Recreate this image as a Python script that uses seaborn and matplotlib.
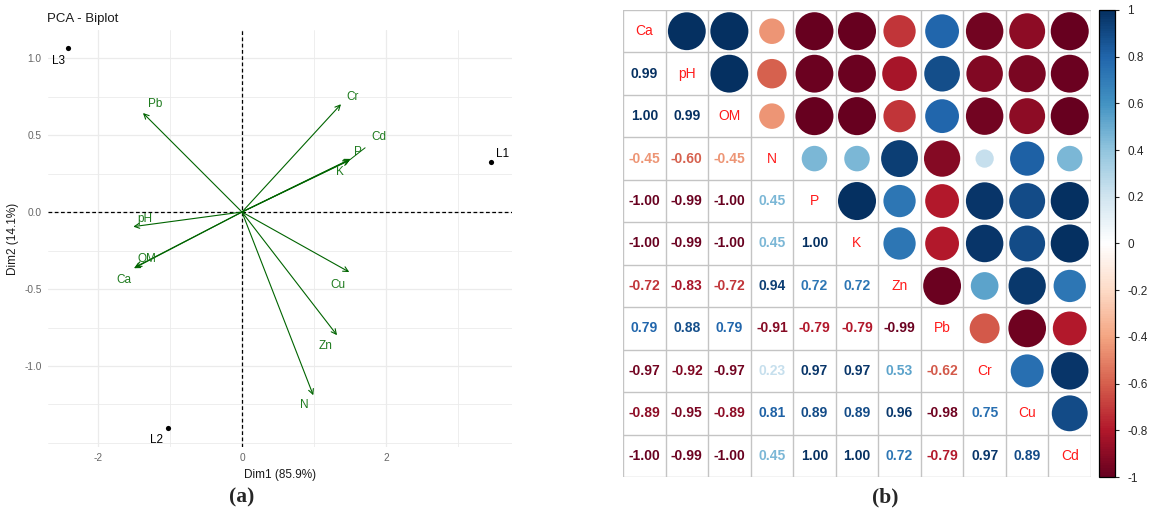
import numpy as np
import pandas as pd
import matplotlib
matplotlib.use("Agg")
import matplotlib.pyplot as plt
from matplotlib.colors import LinearSegmentedColormap, Normalize
from matplotlib.cm import ScalarMappable
from matplotlib.ticker import MultipleLocator
import seaborn as sns

# ---------------- data ----------------
variables = ["Ca", "pH", "OM", "N", "P", "K", "Zn", "Pb", "Cr", "Cu", "Cd"]

# PCA variable loadings (Dim1, Dim2)
var_dim1 = [-1.50, -1.51, -1.48, 0.99, 1.51, 1.49, 1.32, -1.375, 1.375, 1.49, 1.50]
var_dim2 = [-0.365, -0.095, -0.357, -1.19, 0.345, 0.335, -0.80, 0.643, 0.70, -0.39, 0.34]

# PCA individual scores
sites = ["L1", "L2", "L3"]
site_dim1 = [3.46, -1.03, -2.42]
site_dim2 = [0.325, -1.40, 1.065]

# lower-triangle correlation coefficients, row by row
corr_rows = [
    [],
    [0.99],
    [1.00, 0.99],
    [-0.45, -0.60, -0.45],
    [-1.00, -0.99, -1.00, 0.45],
    [-1.00, -0.99, -1.00, 0.45, 1.00],
    [-0.72, -0.83, -0.72, 0.94, 0.72, 0.72],
    [0.79, 0.88, 0.79, -0.91, -0.79, -0.79, -0.99],
    [-0.97, -0.92, -0.97, 0.23, 0.97, 0.97, 0.53, -0.62],
    [-0.89, -0.95, -0.89, 0.81, 0.89, 0.89, 0.96, -0.98, 0.75],
    [-1.00, -0.99, -1.00, 0.45, 1.00, 1.00, 0.72, -0.79, 0.97, 0.89],
]
colorbar_ticks = [-1, -0.8, -0.6, -0.4, -0.2, 0, 0.2, 0.4, 0.6, 0.8, 1]

# ---------------- style ----------------
sns.set_style("white")
plt.rcParams["font.family"] = ["Liberation Sans", "DejaVu Sans"]

n = len(variables)
corr = np.eye(n)
for i, row in enumerate(corr_rows):
    for j, v in enumerate(row):
        corr[i, j] = v
        corr[j, i] = v

rdbu = LinearSegmentedColormap.from_list(
    "corr_rdbu",
    ["#67001F", "#B2182B", "#D6604D", "#F4A582", "#FDDBC7", "#FFFFFF",
     "#D1E5F0", "#92C5DE", "#4393C3", "#2166AC", "#053061"], N=200)
cnorm = Normalize(-1, 1)

W, H = 1149, 516
fig = plt.figure(figsize=(W / 100, H / 100), dpi=100)

# ---------------- (a) PCA biplot ----------------
ax1 = fig.add_axes([48 / W, 1 - 447 / H, (512 - 48) / W, (447 - 30) / H])
ax1.set_xlim(-2.694, 3.75)
ax1.set_ylim(-1.526, 1.182)

ax1.xaxis.set_major_locator(MultipleLocator(2))
ax1.xaxis.set_minor_locator(MultipleLocator(1))
ax1.yaxis.set_major_locator(MultipleLocator(0.5))
ax1.yaxis.set_minor_locator(MultipleLocator(0.25))
ax1.grid(True, which="major", color="#EBEBEB", lw=0.9)
ax1.grid(True, which="minor", color="#EBEBEB", lw=0.6)
ax1.set_axisbelow(True)
for s in ax1.spines.values():
    s.set_visible(False)
ax1.tick_params(axis="both", which="major", length=2.5, width=0.6, color="#333333",
                labelsize=7.3, labelcolor="#666666", pad=2)
ax1.tick_params(axis="both", which="minor", length=0)
ax1.set_xticks([-2, 0, 2])
ax1.set_xticklabels(["-2", "0", "2"])
ax1.set_yticks([-1.0, -0.5, 0.0, 0.5, 1.0])
ax1.set_yticklabels(["-1.0", "-0.5", "0.0", "0.5", "1.0"])

ax1.axhline(0, color="black", ls=(0, (3, 2)), lw=0.9)
ax1.axvline(0, color="black", ls=(0, (3, 2)), lw=0.9)

pca_vars = pd.DataFrame({"var": variables, "Dim1": var_dim1, "Dim2": var_dim2})
pca_sites = pd.DataFrame({"site": sites, "Dim1": site_dim1, "Dim2": site_dim2})

# label offsets in points (repelled text placement)
var_label_offset = {
    "Pb": (8.6, 6.5), "Cr": (8, 5), "Cd": (21, 16.5), "P": (5, 5), "K": (-7, -8),
    "Cu": (-8, -9.4), "Zn": (-8, -8), "N": (-6.5, -7.2), "pH": (8.6, 5.8),
    "OM": (8.6, 5.8), "Ca": (-7.2, -8.6),
}
site_label_offset = {"L1": (8, 5.8), "L2": (-8, -8.6), "L3": (-6.5, -9.4)}

arrow_col = "#006400"
for _, r in pca_vars.iterrows():
    ax1.annotate("", xy=(r.Dim1, r.Dim2), xytext=(0, 0),
                 arrowprops=dict(arrowstyle="->", color=arrow_col, lw=0.8,
                                 shrinkA=0, shrinkB=0, mutation_scale=9))
for _, r in pca_vars.iterrows():
    dx, dy = var_label_offset[r["var"]]
    connect = dict(arrowstyle="-", color=arrow_col, lw=0.7, shrinkA=3, shrinkB=0) \
        if r["var"] == "Cd" else None
    ax1.annotate(r["var"], xy=(r.Dim1, r.Dim2), xytext=(dx, dy),
                 textcoords="offset points", ha="center", va="center",
                 fontsize=8.5, color="#1E7B1E", arrowprops=connect)

sns.scatterplot(data=pca_sites, x="Dim1", y="Dim2", color="black", s=14,
                linewidth=0, ax=ax1, zorder=5)
for _, r in pca_sites.iterrows():
    dx, dy = site_label_offset[r["site"]]
    ax1.annotate(r["site"], xy=(r.Dim1, r.Dim2), xytext=(dx, dy),
                 textcoords="offset points", ha="center", va="center",
                 fontsize=8.5, color="black")

ax1.set_xlabel("Dim1 (85.9%)", fontsize=8.5, color="#1A1A1A", labelpad=4)
ax1.set_ylabel("Dim2 (14.1%)", fontsize=8.5, color="#1A1A1A", labelpad=4)
ax1.set_title("PCA - Biplot", fontsize=9.5, loc="left", x=-0.002, pad=6, color="#1A1A1A")

# ---------------- (b) correlation plot ----------------
ax2 = fig.add_axes([623 / W, 1 - 477 / H, 468 / W, 467 / H])

for k in range(n + 1):
    ax2.plot([k - 0.5, k - 0.5], [-0.5, n - 0.5], color="#C4C4C4", lw=1.0, zorder=1)
    ax2.plot([-0.5, n - 0.5], [k - 0.5, k - 0.5], color="#C4C4C4", lw=1.0, zorder=1)

upper = pd.DataFrame([
    {"col": j, "row": i, "r": corr[i, j], "absr": abs(corr[i, j])}
    for i in range(n) for j in range(n) if j > i
])
sns.scatterplot(data=upper, x="col", y="row", hue="r", size="absr",
                palette=rdbu, hue_norm=(-1, 1), sizes=(0, 750), size_norm=(0, 1),
                linewidth=0, legend=False, ax=ax2, zorder=3)
ax2.set_xlim(-0.5, n - 0.5)
ax2.set_ylim(n - 0.5, -0.5)
ax2.set_axis_off()

for i in range(n):
    ax2.text(i, i, variables[i], ha="center", va="center", fontsize=10, color="#FF1A1A")
    for j in range(i):
        v = corr[i, j]
        ax2.text(j, i, f"{v:.2f}", ha="center", va="center", fontsize=10,
                 fontweight="bold", color=rdbu(cnorm(v)))

cax = fig.add_axes([1099 / W, 1 - 477 / H, 16 / W, 467 / H])
cb = fig.colorbar(ScalarMappable(norm=cnorm, cmap=rdbu), cax=cax)
cb.set_ticks(colorbar_ticks)
cb.set_ticklabels([f"{t:g}" for t in colorbar_ticks])
cb.outline.set_edgecolor("black")
cb.outline.set_linewidth(0.9)
cax.tick_params(length=3, width=0.8, labelsize=8.5, pad=6, direction="out")

# ---------------- panel tags ----------------
fig.text(242 / W, 1 - 497 / H, "(a)", ha="center", va="center", fontsize=15.5,
         fontweight="bold", family=["Liberation Serif", "DejaVu Serif"])
fig.text(885 / W, 1 - 497 / H, "(b)", ha="center", va="center", fontsize=15.5,
         fontweight="bold", family=["Liberation Serif", "DejaVu Serif"])

fig.savefig("out.png", dpi=100)
